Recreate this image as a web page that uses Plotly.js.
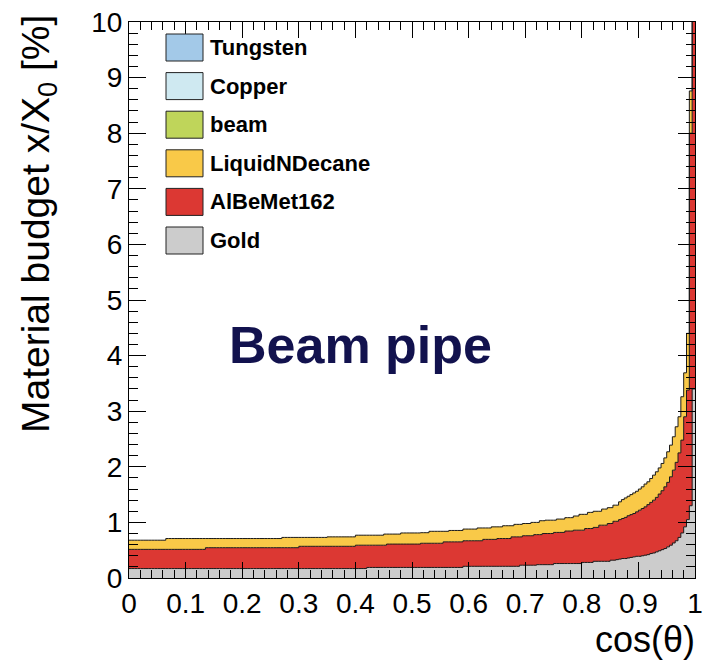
<!DOCTYPE html>
<html>
<head>
<meta charset="utf-8">
<script src="https://cdn.plot.ly/plotly-3.0.1.min.js"></script>
<style>
html, body { margin: 0; padding: 0; background: #ffffff; }
#chart { width: 705px; height: 663px; }
</style>
</head>
<body>
<div id="chart"></div>
<script>
// ---- DATA: material budget x/X0 [%] per cos(theta) bin (bin width 0.005, from 0 to 1) ----
const binWidth = 0.005;

const goldValues = [
  0.17,0.17,0.17,0.17,0.17,0.17,0.17,0.17,0.17,0.17,
  0.17,0.17,0.17,0.17,0.17,0.17,0.17,0.17,0.17,0.17,
  0.17,0.17,0.17,0.17,0.17,0.17,0.17,0.17,0.17,0.17,
  0.17,0.17,0.17,0.17,0.17,0.17,0.17,0.17,0.17,0.17,
  0.17,0.17,0.17,0.17,0.17,0.17,0.17,0.17,0.17,0.17,
  0.17,0.17,0.17,0.17,0.17,0.17,0.17,0.17,0.17,0.17,
  0.17,0.17,0.17,0.17,0.17,0.17,0.17,0.17,0.17,0.17,
  0.17,0.17,0.17,0.17,0.17,0.17,0.17,0.17,0.17,0.17,
  0.17,0.17,0.17,0.17,0.19,0.19,0.19,0.19,0.19,0.19,
  0.19,0.19,0.19,0.19,0.19,0.19,0.19,0.19,0.19,0.19,
  0.19,0.19,0.19,0.19,0.19,0.19,0.19,0.19,0.19,0.19,
  0.19,0.19,0.19,0.19,0.19,0.19,0.19,0.19,0.21,0.21,
  0.21,0.21,0.21,0.21,0.21,0.21,0.21,0.21,0.21,0.21,
  0.21,0.21,0.21,0.21,0.21,0.21,0.21,0.21,0.23,0.23,
  0.23,0.23,0.23,0.23,0.24,0.24,0.24,0.24,0.24,0.24,
  0.26,0.26,0.26,0.26,0.26,0.26,0.26,0.26,0.26,0.26,
  0.28,0.28,0.28,0.28,0.30,0.30,0.30,0.30,0.30,0.30,
  0.32,0.32,0.33,0.34,0.35,0.35,0.36,0.37,0.38,0.39,
  0.39,0.40,0.41,0.42,0.44,0.45,0.47,0.49,0.51,0.53,
  0.56,0.59,0.63,0.67,0.73,0.81,0.92,1.05,1.30,3.40
];

const alBeMetValues = [
  0.345,0.345,0.345,0.345,0.345,0.345,0.345,0.345,0.345,0.345,
  0.345,0.345,0.345,0.345,0.345,0.345,0.345,0.345,0.345,0.345,
  0.345,0.345,0.345,0.345,0.345,0.345,0.345,0.375,0.375,0.375,
  0.375,0.375,0.375,0.375,0.375,0.375,0.375,0.375,0.375,0.375,
  0.375,0.375,0.375,0.375,0.375,0.375,0.375,0.375,0.375,0.375,
  0.375,0.375,0.375,0.375,0.375,0.375,0.375,0.375,0.375,0.375,
  0.40,0.40,0.40,0.40,0.40,0.40,0.40,0.40,0.40,0.40,
  0.40,0.40,0.40,0.40,0.40,0.40,0.40,0.40,0.40,0.40,
  0.42,0.42,0.42,0.42,0.40,0.40,0.40,0.40,0.40,0.40,
  0.40,0.42,0.42,0.42,0.42,0.42,0.42,0.42,0.42,0.42,
  0.42,0.42,0.42,0.435,0.435,0.435,0.435,0.435,0.435,0.435,
  0.435,0.46,0.46,0.46,0.46,0.46,0.46,0.46,0.46,0.46,
  0.46,0.46,0.46,0.46,0.46,0.485,0.485,0.485,0.485,0.485,
  0.50,0.50,0.50,0.50,0.50,0.53,0.53,0.53,0.51,0.53,
  0.53,0.53,0.53,0.55,0.54,0.54,0.56,0.56,0.56,0.56,
  0.56,0.56,0.56,0.56,0.585,0.585,0.585,0.60,0.60,0.60,
  0.58,0.61,0.61,0.61,0.61,0.61,0.65,0.65,0.65,0.68,
  0.66,0.70,0.69,0.71,0.72,0.74,0.76,0.77,0.78,0.80,
  0.83,0.85,0.87,0.90,0.92,0.95,0.98,1.02,1.06,1.11,
  1.16,1.23,1.31,1.41,1.52,1.67,1.98,2.33,6.70,10.6
];

const decaneValues = [
  0.165,0.165,0.165,0.165,0.165,0.165,0.165,0.165,0.165,0.165,
  0.165,0.165,0.165,0.195,0.195,0.195,0.195,0.195,0.195,0.195,
  0.195,0.195,0.195,0.195,0.195,0.195,0.195,0.165,0.165,0.165,
  0.165,0.165,0.165,0.165,0.165,0.165,0.165,0.165,0.165,0.165,
  0.165,0.165,0.165,0.165,0.165,0.165,0.165,0.165,0.165,0.165,
  0.165,0.165,0.165,0.165,0.185,0.185,0.185,0.185,0.185,0.185,
  0.16,0.16,0.16,0.16,0.16,0.16,0.16,0.16,0.16,0.16,
  0.17,0.17,0.17,0.17,0.17,0.17,0.17,0.17,0.17,0.17,
  0.18,0.18,0.18,0.18,0.18,0.18,0.18,0.18,0.18,0.18,
  0.20,0.18,0.18,0.18,0.18,0.18,0.20,0.20,0.20,0.20,
  0.20,0.20,0.20,0.19,0.19,0.19,0.215,0.215,0.215,0.215,
  0.215,0.19,0.19,0.205,0.205,0.205,0.205,0.205,0.21,0.21,
  0.21,0.21,0.21,0.23,0.23,0.205,0.205,0.205,0.225,0.225,
  0.21,0.21,0.23,0.23,0.23,0.20,0.225,0.225,0.225,0.22,
  0.22,0.22,0.24,0.22,0.22,0.25,0.23,0.24,0.24,0.24,
  0.22,0.24,0.24,0.24,0.24,0.24,0.24,0.255,0.255,0.285,
  0.285,0.255,0.29,0.29,0.29,0.29,0.25,0.29,0.29,0.285,
  0.285,0.29,0.29,0.32,0.34,0.35,0.35,0.36,0.37,0.37,
  0.38,0.39,0.41,0.41,0.43,0.45,0.46,0.47,0.49,0.52,
  0.55,0.57,0.60,0.64,0.65,0.78,0.79,1.02,0.76,0.50
];

// legend entries (top to bottom, as in the reference)
const legendNames = ['Tungsten', 'Copper', 'beam', 'LiquidNDecane', 'AlBeMet162', 'Gold'];

const xTitle = 'cos(θ)';
const yTitle = 'Material budget x/X<sub>0</sub> [%]';
const labelText = 'Beam pipe';

// ---- STYLE ----
const colors = {
  Tungsten: '#a3c9e8',
  Copper: '#cfe9f1',
  beam: '#bfd55a',
  LiquidNDecane: '#f9c948',
  AlBeMet162: '#dc3833',
  Gold: '#cccccc'
};
const W = 705, H = 663;
const M = { l: 129, r: 10, t: 22, b: 85 };
const PW = W - M.l - M.r, PH = H - M.t - M.b;
const px2x = p => (p - M.l) / PW;
const px2y = p => (H - M.b - p) / PH;
const FONT = 'Liberation Sans, Arial, Helvetica, sans-serif';

// histogram edges from bin definition
const nBins = goldValues.length;
const edges = [];
for (let i = 0; i <= nBins; i++) edges.push(+(i * binWidth).toFixed(4));
const stepY = v => v.concat([v[v.length - 1]]);

function layerTrace(name, vals) {
  return {
    type: 'scatter', mode: 'lines', name: name,
    x: edges, y: stepY(vals),
    stackgroup: 'materials',
    line: { shape: 'hv', color: '#1a1a1a', width: 1 },
    fillcolor: colors[name],
    hoverinfo: 'x+y+name',
    showlegend: false
  };
}

const traces = [
  layerTrace('Gold', goldValues),
  layerTrace('AlBeMet162', alBeMetValues),
  layerTrace('LiquidNDecane', decaneValues)
];

// manual ROOT-style legend
const shapes = [];
const annotations = [];
legendNames.forEach((name, i) => {
  const top = 34 + i * 38.6;
  shapes.push({
    type: 'rect', xref: 'paper', yref: 'paper',
    x0: px2x(166), x1: px2x(203), y0: px2y(top + 27), y1: px2y(top),
    fillcolor: colors[name], line: { color: '#222', width: 1 }, layer: 'above'
  });
  annotations.push({
    xref: 'paper', yref: 'paper', x: px2x(208), y: px2y(top + 13.5),
    xanchor: 'left', yanchor: 'middle', showarrow: false,
    text: '<b>' + name + '</b>',
    font: { family: FONT, size: 22, color: '#000' }
  });
});

annotations.push({
  xref: 'paper', yref: 'paper', x: px2x(360.5), y: px2y(345),
  xanchor: 'center', yanchor: 'middle', showarrow: false,
  text: '<b>' + labelText + '</b>',
  font: { family: FONT, size: 52, color: '#12124e' }
});
annotations.push({
  xref: 'paper', yref: 'paper', x: px2x(697), y: px2y(639),
  xanchor: 'right', yanchor: 'middle', showarrow: false,
  text: xTitle, font: { family: FONT, size: 36, color: '#000' }
});
annotations.push({
  xref: 'paper', yref: 'paper', x: px2x(38), y: px2y(13),
  xanchor: 'center', yanchor: 'top', showarrow: false, textangle: -90,
  text: yTitle, font: { family: FONT, size: 39, color: '#000' }
});

const axisCommon = {
  showgrid: false, zeroline: false,
  showline: true, linecolor: '#000', linewidth: 1, mirror: 'ticks',
  ticks: 'inside', tickcolor: '#000', tickwidth: 1,
  tickfont: { family: FONT, size: 28, color: '#000' }
};

const layout = {
  width: W, height: H,
  margin: { l: M.l, r: M.r, t: M.t, b: M.b, pad: 0 },
  paper_bgcolor: '#ffffff', plot_bgcolor: '#ffffff',
  font: { family: FONT, color: '#000' },
  showlegend: false,
  xaxis: Object.assign({}, axisCommon, {
    range: [0, 1], tick0: 0, dtick: 0.1, ticklen: 16,
    minor: { dtick: 0.02, ticklen: 8, ticks: 'inside', tickcolor: '#000', tickwidth: 1, showgrid: false }
  }),
  yaxis: Object.assign({}, axisCommon, {
    range: [0, 10], tick0: 0, dtick: 1, ticklen: 17,
    minor: { dtick: 0.2, ticklen: 9, ticks: 'inside', tickcolor: '#000', tickwidth: 1, showgrid: false }
  }),
  shapes: shapes,
  annotations: annotations
};

Plotly.newPlot('chart', traces, layout, { staticPlot: true, displayModeBar: false });
</script>
</body>
</html>
